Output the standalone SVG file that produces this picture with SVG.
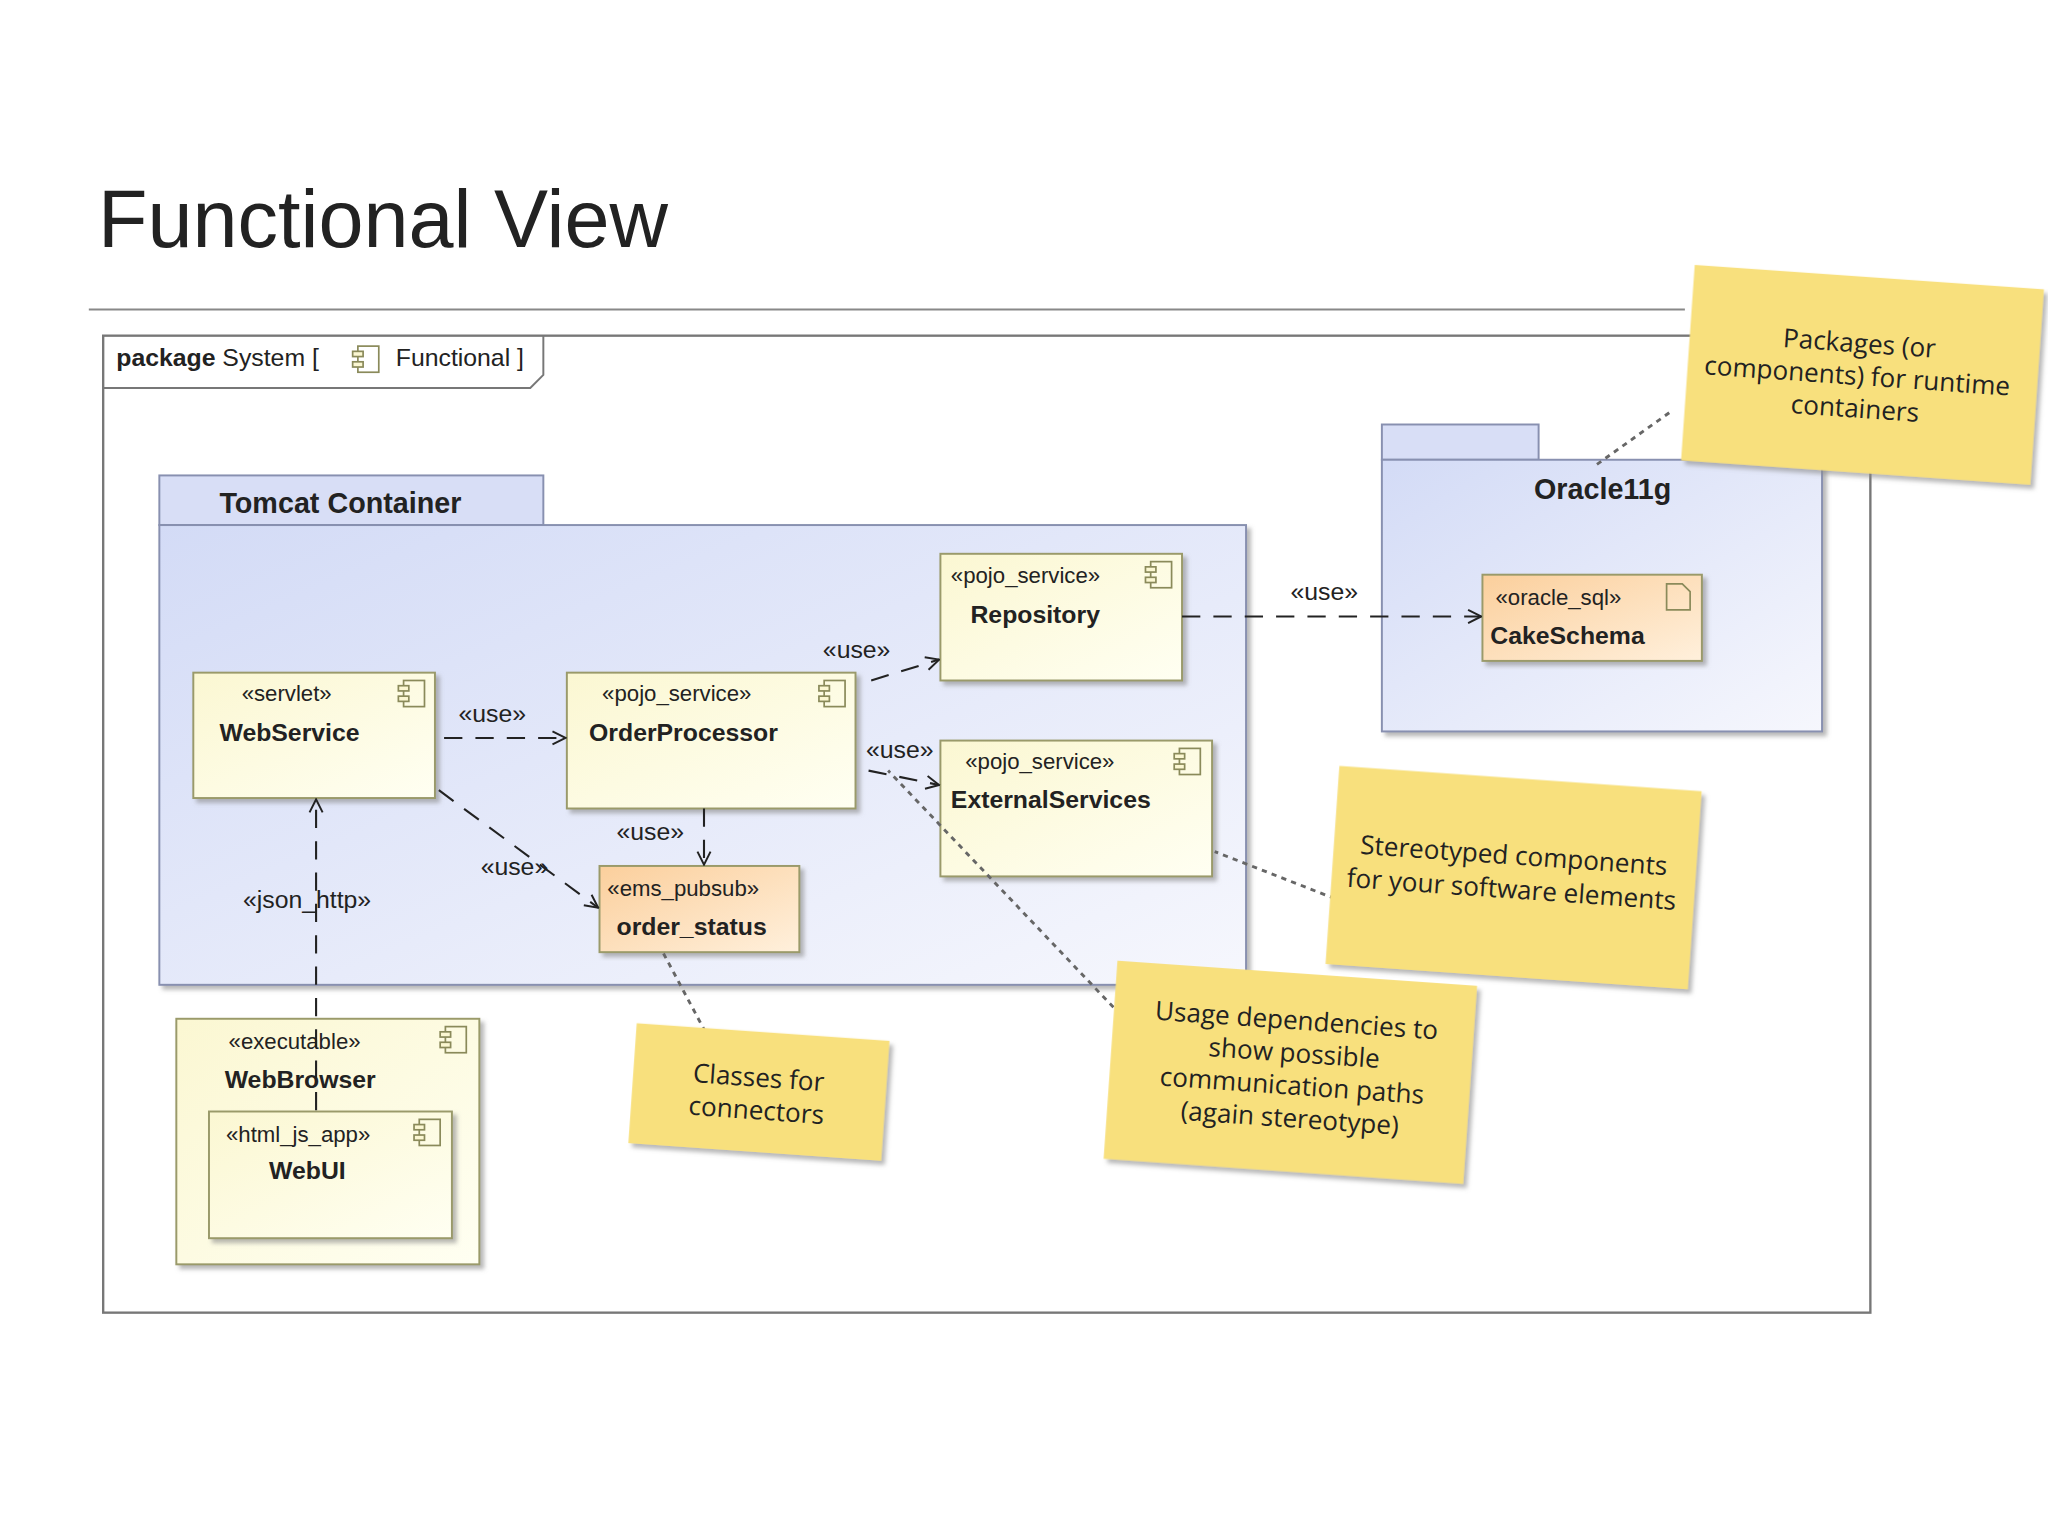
<svg xmlns="http://www.w3.org/2000/svg" width="2048" height="1536" viewBox="0 0 2048 1536">
<defs>
<linearGradient id="blue" x1="0" y1="0" x2="1" y2="1"><stop offset="0" stop-color="#d3dbf6"/><stop offset="1" stop-color="#f6f7fd"/></linearGradient>
<linearGradient id="yel" x1="0" y1="0" x2="1" y2="1"><stop offset="0" stop-color="#fbf7d2"/><stop offset="1" stop-color="#fffff2"/></linearGradient>
<linearGradient id="org" x1="0" y1="0" x2="1" y2="1"><stop offset="0" stop-color="#fbcf9c"/><stop offset="1" stop-color="#fff0dc"/></linearGradient>
<marker id="ah" viewBox="0 0 12 12" refX="11" refY="6" markerWidth="12" markerHeight="12" markerUnits="userSpaceOnUse" orient="auto"><path d="M1,1 L11,6 L1,11" fill="none" stroke="#222" stroke-width="1.5"/></marker>
<filter id="sh" x="-5%" y="-5%" width="115%" height="115%"><feDropShadow dx="3" dy="3" stdDeviation="1.5" flood-color="#888" flood-opacity="0.6"/></filter>
<g id="ci"><rect x="4" y="0" width="16" height="20" fill="none" stroke="#8a8a5a" stroke-width="1.3"/><rect x="0" y="4" width="8" height="4" fill="#fbf7d2" stroke="#8a8a5a" stroke-width="1.3"/><rect x="0" y="12" width="8" height="4" fill="#fbf7d2" stroke="#8a8a5a" stroke-width="1.3"/></g>
</defs>
<style>
text{font-family:"Liberation Sans",Arial,sans-serif;fill:#222}
.st{font-size:17px}
.nm{font-size:19px;font-weight:bold}
.lbl{font-size:19px}
.comp{stroke:#9a9a6a;stroke-width:1.5;filter:url(#sh)}
.dash{fill:none;stroke:#222;stroke-width:1.6;stroke-dasharray:14 10}
.dot{fill:none;stroke:#666;stroke-width:2.2;stroke-dasharray:4 4}
.note{fill:#f8e07d;filter:url(#sh)}
.nt{font-size:20px;font-family:"Open Sans","Liberation Sans",sans-serif;text-anchor:middle}
.icon{fill:none;stroke:#8a8a5a;stroke-width:1.3}
</style>
<rect width="2048" height="1536" fill="#fff"/>
<g transform="scale(1.30612)">
<text x="75" y="189" font-size="62" style="font-family:'Liberation Sans',sans-serif">Functional View</text>
<line x1="68" y1="237" x2="1290" y2="237" stroke="#888" stroke-width="1.5"/>
<g id="frame">
<rect x="79" y="257" width="1353" height="748" fill="none" stroke="#777" stroke-width="1.8"/>
<path d="M79,297 H406 L416,287 V257" fill="none" stroke="#777" stroke-width="1.5"/>
<text x="89" y="280" font-size="19"><tspan font-weight="bold">package</tspan> System [</text>
<use href="#ci" x="270" y="265"/>
<text x="303" y="280" font-size="19">Functional ]</text>
</g>
<g id="tomcat">
<rect x="122" y="364" width="294" height="38" fill="#d8def6" stroke="#8890b0" stroke-width="1.5"/>
<rect x="122" y="402" width="832" height="352" fill="url(#blue)" stroke="#8890b0" stroke-width="1.5" filter="url(#sh)"/>
<text x="168" y="393" font-size="22" font-weight="bold">Tomcat Container</text>
</g>
<g id="oracle">
<rect x="1058" y="325" width="120" height="27" fill="#d8def6" stroke="#8890b0" stroke-width="1.5"/>
<rect x="1058" y="352" width="337" height="208" fill="url(#blue)" stroke="#8890b0" stroke-width="1.5" filter="url(#sh)"/>
<text x="1227" y="382" font-size="22" font-weight="bold" text-anchor="middle">Oracle11g</text>
</g>
<g id="repository"><rect class="comp" x="720" y="424" width="185" height="97" fill="url(#yel)"/>
<text class="st" x="728" y="446">«pojo_service»</text><text class="nm" x="743" y="477">Repository</text>
<use href="#ci" x="877" y="430"/></g>
<g id="webservice"><rect class="comp" x="148" y="515" width="185" height="96" fill="url(#yel)"/>
<text class="st" x="185" y="537">«servlet»</text><text class="nm" x="168" y="567">WebService</text>
<use href="#ci" x="305" y="521"/></g>
<g id="orderprocessor"><rect class="comp" x="434" y="515" width="221" height="104" fill="url(#yel)"/>
<text class="st" x="461" y="537">«pojo_service»</text><text class="nm" x="451" y="567">OrderProcessor</text>
<use href="#ci" x="627" y="521"/></g>
<g id="externalservices"><rect class="comp" x="720" y="567" width="208" height="104" fill="url(#yel)"/>
<text class="st" x="739" y="589">«pojo_service»</text><text class="nm" x="728" y="619">ExternalServices</text>
<use href="#ci" x="899" y="573"/></g>
<g id="order_status"><rect class="comp" x="459" y="663" width="153" height="66" fill="url(#org)"/>
<text class="st" x="465" y="686">«ems_pubsub»</text><text class="nm" x="472" y="716">order_status</text></g>
<g id="cakeschema"><rect class="comp" x="1135" y="440" width="168" height="66" fill="url(#org)"/>
<text class="st" x="1145" y="463">«oracle_sql»</text><text class="nm" x="1141" y="493">CakeSchema</text>
<path class="icon" d="M1276,447 H1288 L1294,453 V467 H1276 Z"/></g>
<g id="webbrowser"><rect class="comp" x="135" y="780" width="232" height="188" fill="url(#yel)"/>
<text class="st" x="175" y="803">«executable»</text><text class="nm" x="172" y="833">WebBrowser</text>
<use href="#ci" x="337" y="786"/></g>
<g id="webui"><rect class="comp" x="160" y="851" width="186" height="97" fill="url(#yel)"/>
<text class="st" x="173" y="874">«html_js_app»</text><text class="nm" x="206" y="903">WebUI</text>
<use href="#ci" x="317" y="857"/></g>
<g id="connectors">
<line class="dash" x1="340" y1="565" x2="433" y2="565" marker-end="url(#ah)"/>
<text class="lbl" x="351" y="553">«use»</text>
<line class="dash" x1="667" y1="521" x2="719" y2="505" marker-end="url(#ah)"/>
<text class="lbl" x="630" y="504">«use»</text>
<line class="dash" x1="665" y1="590" x2="719" y2="601" marker-end="url(#ah)"/>
<text class="lbl" x="663" y="580">«use»</text>
<line class="dash" x1="539" y1="619" x2="539" y2="662" stroke-dasharray="6 4" marker-end="url(#ah)"/>
<text class="lbl" x="472" y="643">«use»</text>
<line class="dash" x1="336" y1="605" x2="458" y2="695" marker-end="url(#ah)"/>
<text class="lbl" x="368" y="670">«use»</text>
<line class="dash" x1="242" y1="850" x2="242" y2="612" marker-end="url(#ah)"/>
<text class="lbl" x="186" y="695">«json_http»</text>
<line class="dash" x1="905" y1="472" x2="1134" y2="472" marker-end="url(#ah)"/>
<text class="lbl" x="988" y="459">«use»</text>
<line class="dot" x1="1278" y1="316" x2="1222" y2="356"/>
<line class="dot" x1="1022" y1="688" x2="930" y2="652"/>
<line class="dot" x1="858" y1="777" x2="680" y2="590"/>
<line class="dot" x1="540" y1="790" x2="508" y2="730"/>
</g>
<g id="note_packages" transform="rotate(4 1426 287)">
<rect class="note" x="1292" y="212" width="268" height="150"/>
<text class="nt" x="1422" y="270">Packages (or</text><text class="nt" x="1422" y="295">components) for runtime</text><text class="nt" x="1422" y="320">containers</text></g>
<g id="note_stereotyped" transform="rotate(4 1160 670)">
<rect class="note" x="1020" y="596" width="278" height="152"/>
<text class="nt" x="1158" y="662">Stereotyped components</text><text class="nt" x="1158" y="688">for your software elements</text></g>
<g id="note_usage" transform="rotate(4 988 820)">
<rect class="note" x="850" y="745" width="276" height="152"/>
<text class="nt" x="990" y="788">Usage dependencies to</text><text class="nt" x="990" y="813">show possible</text><text class="nt" x="990" y="838">communication paths</text><text class="nt" x="990" y="863">(again stereotype)</text></g>
<g id="note_classes" transform="rotate(4 580 837)">
<rect class="note" x="484" y="790" width="194" height="92"/>
<text class="nt" x="580" y="832">Classes for</text><text class="nt" x="580" y="857">connectors</text></g>
</g>
</svg>
